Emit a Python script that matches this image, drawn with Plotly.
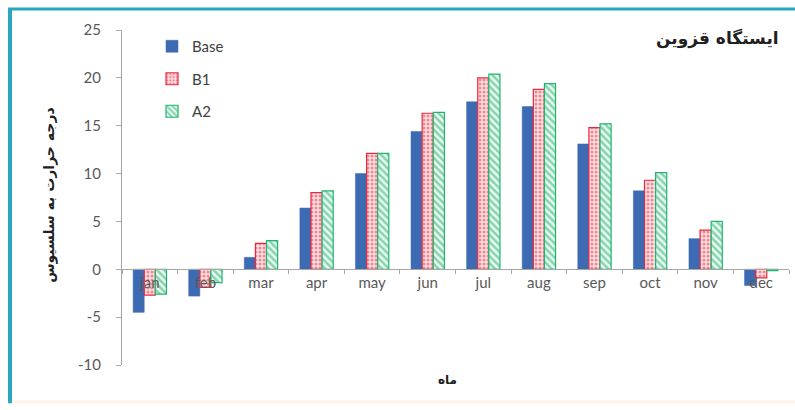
import plotly.graph_objects as go

months = ["jan", "feb", "mar", "apr", "may", "jun", "jul", "aug", "sep", "oct", "nov", "dec"]
base = [-4.5, -2.8, 1.25, 6.4, 10.0, 14.4, 17.5, 17.0, 13.1, 8.2, 3.2, -1.7]
b1 = [-2.7, -1.9, 2.7, 8.0, 12.1, 16.3, 20.0, 18.8, 14.8, 9.3, 4.1, -0.9]
a2 = [-2.6, -1.4, 3.0, 8.2, 12.1, 16.4, 20.4, 19.4, 15.2, 10.1, 5.0, -0.15]
y_ticks = [-10, -5, 0, 5, 10, 15, 20, 25]
y_tick_text = [str(v) for v in y_ticks]

y_min, y_max = -10, 25
zero_pos = (0 - y_min) / (y_max - y_min)

fig = go.Figure()
fig.add_trace(go.Bar(
    name="Base", x=months, y=base, legendgroup="base",
    marker=dict(color="#3c6bb3", line=dict(color="#3c6bb3", width=0.5)),
))
fig.add_trace(go.Bar(
    name="B1", x=months, y=b1, legendgroup="b1",
    marker=dict(
        color="#f4a7ae",
        line=dict(color="#e8283e", width=1.2),
        pattern=dict(shape=".", fgcolor="#e8283e", bgcolor="#fbe3e5", size=4, solidity=0.45),
    ),
))
fig.add_trace(go.Bar(
    name="A2", x=months, y=a2, legendgroup="a2",
    marker=dict(
        color="#bfeedd",
        line=dict(color="#1fb56e", width=1.2),
        pattern=dict(shape="\\", fgcolor="#1fae6a", bgcolor="#eafaf3", size=5, solidity=0.5),
    ),
))

fig.update_layout(
    width=795, height=410,
    margin=dict(l=122, r=6, t=30, b=45),
    paper_bgcolor="white", plot_bgcolor="white",
    barmode="group", bargap=0.4, bargroupgap=0,
    font=dict(family="Lato, 'DejaVu Sans', sans-serif", color="#595959", size=14),
    showlegend=True,
    legend=dict(
        x=0.045, y=1.0, xanchor="left", yanchor="top",
        bgcolor="rgba(0,0,0,0)", tracegroupgap=10,
        font=dict(size=15, color="#404040"), itemwidth=30,
    ),
    xaxis=dict(
        anchor="free", position=zero_pos,
        showline=True, linecolor="#a6a6a6", linewidth=1,
        ticks="outside", ticklen=4, tickcolor="#a6a6a6",
        tickson="boundaries", showgrid=False, zeroline=False,
        tickfont=dict(size=15, color="#595959"),
        range=[-0.5, 11.5],
    ),
    yaxis=dict(
        range=[y_min, y_max], tickvals=y_ticks, ticktext=y_tick_text,
        showline=True, linecolor="#a6a6a6", linewidth=1,
        ticks="outside", ticklen=5, tickcolor="#a6a6a6",
        showgrid=False, zeroline=False,
        tickfont=dict(size=15, color="#595959"),
        ticklabelstandoff=12,
    ),
    annotations=[
        dict(text="<b>ایستگاه قزوین</b>", xref="paper", yref="paper",
             x=0.988, y=0.975, xanchor="right", yanchor="middle", showarrow=False,
             font=dict(family="DejaVu Sans", size=17, color="#202020")),
        dict(text="<b>درجه حرارت به سلسیوس</b>", xref="paper", yref="paper",
             x=(50 - 122) / 667, y=0.505, xanchor="center", yanchor="middle",
             textangle=-90, showarrow=False,
             font=dict(family="DejaVu Sans", size=14, color="#202020")),
        dict(text="<b>ماه</b>", xref="paper", yref="paper",
             x=(447 - 122) / 667, y=-0.045, xanchor="center", yanchor="middle",
             showarrow=False,
             font=dict(family="DejaVu Sans", size=12, color="#202020")),
    ],
    shapes=[
        dict(type="line", xref="paper", yref="paper",
             x0=(10 - 122) / 667, x1=(10 - 122) / 667, y0=-45 / 335 + 0.02, y1=1 + 20 / 335,
             line=dict(color="#2aa7bd", width=4)),
        dict(type="line", xref="paper", yref="paper",
             x0=(8 - 122) / 667, x1=1 + 6 / 667, y0=1 + 21 / 335, y1=1 + 21 / 335,
             line=dict(color="#2aa7bd", width=3)),
        dict(type="line", xref="paper", yref="paper",
             x0=(12 - 122) / 667, x1=1 + 6 / 667, y0=-37 / 335, y1=-37 / 335,
             line=dict(color="#fdf3e6", width=3)),
    ],
)

fig.write_html("out.html")
